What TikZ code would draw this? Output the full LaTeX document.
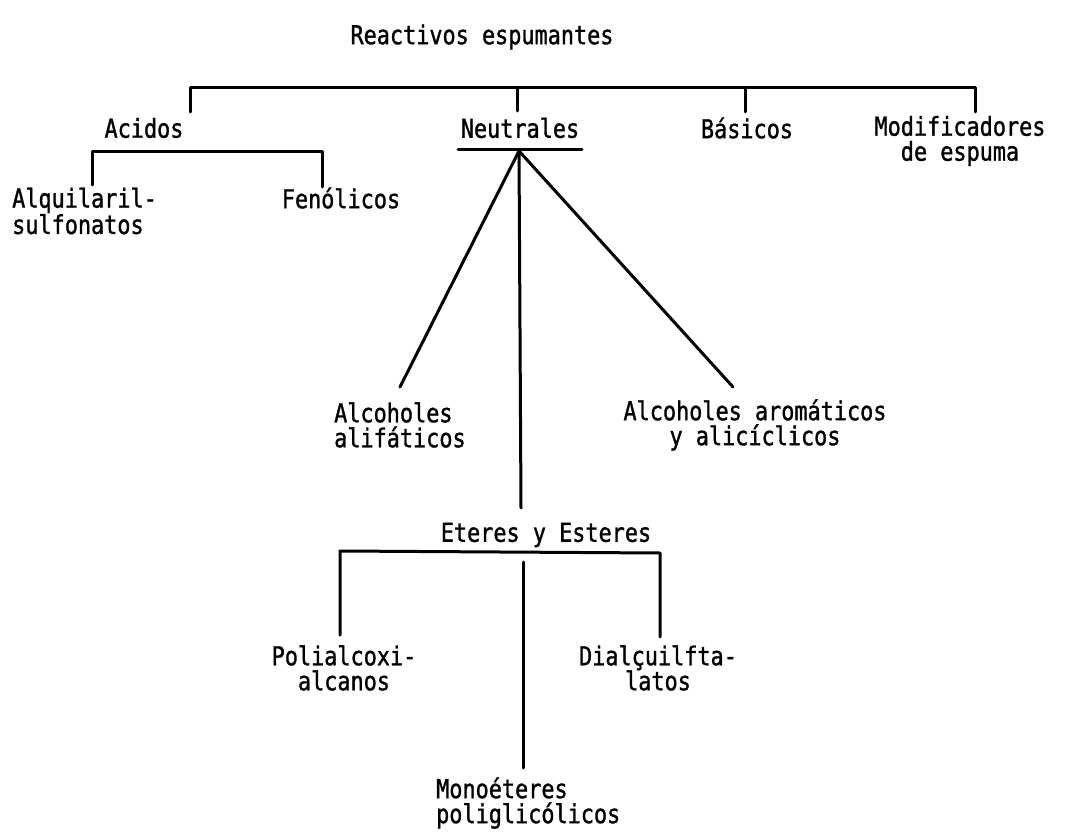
\documentclass[tikz,border=0pt]{standalone}
\usepackage{fontspec}
\newfontfamily\tw[FakeStretch=0.84,FakeBold=1.2]{DejaVu Sans Mono}
\begin{document}
\begin{tikzpicture}[x=1pt,y=-1pt,
  lbl/.style={inner sep=0pt,font=\tw\fontsize{26}{25}\selectfont,align=center},
  lbll/.style={lbl,align=left,anchor=west},
  ln/.style={line width=3pt,line cap=round,line join=round}]
\useasboundingbox (0,0) rectangle (1088,840);
% labels
\node[lbl] (title) at (482,37) {Reactivos espumantes};
\node[lbl] (acidos) at (144,128) {Acidos};
\node[lbl] (neutrales) at (520,128) {Neutrales};
\node[lbl] (basicos) at (747,128) {Básicos};
\node[lbl] (modif) at (960,141) {Modificadores\\de espuma};
\node[lbll] (alquil) at (12,211) {Alquilaril-\\sulfonatos};
\node[lbl] (fenol) at (341,198) {Fenólicos};
\node[lbll] (alif) at (334,425) {Alcoholes\\alifáticos};
\node[lbl] (arom) at (755,425) {Alcoholes aromáticos\\y alicíclicos};
\node[lbl] (eteres) at (546,535) {Eteres y Esteres};
\node[lbl] (polial) at (344,668) {Polialcoxi-\\alcanos};
\node[lbl] (dialq) at (658,668) {Dialçuilfta-\\latos};
\node[lbll] (mono) at (436,803) {Monoéteres\\poliglicólicos};
% top bracket
\coordinate (t1) at (190,88);
\coordinate (t2) at (517,88);
\coordinate (t3) at (745,88);
\coordinate (t4) at (975,88);
\draw[ln] (190,112) -- (t1) -- (t4) -- (975,112);
\draw[ln] (t2) -- (517,111);
\draw[ln] (t3) -- (745,112);
% acidos bracket
\coordinate (a1) at (92,152);
\coordinate (a2) at (322,152);
\draw[ln] (92,185) -- (a1) -- (a2) -- (322,187);
% neutrales
\coordinate (n0) at (519,151);
\draw[ln] (458,150) -- (582,150);
\draw[ln] (n0) -- (400,387);
\draw[ln] (n0) -- (733,387);
\draw[ln] (n0) -- (521,508);
% eteres bracket
\coordinate (e1) at (340,551);
\coordinate (e2) at (660,553);
\draw[ln] (340,635) -- (e1) -- (e2) -- (660,637);
\draw[ln] (523,562) -- (523,768);
\end{tikzpicture}
\end{document}
